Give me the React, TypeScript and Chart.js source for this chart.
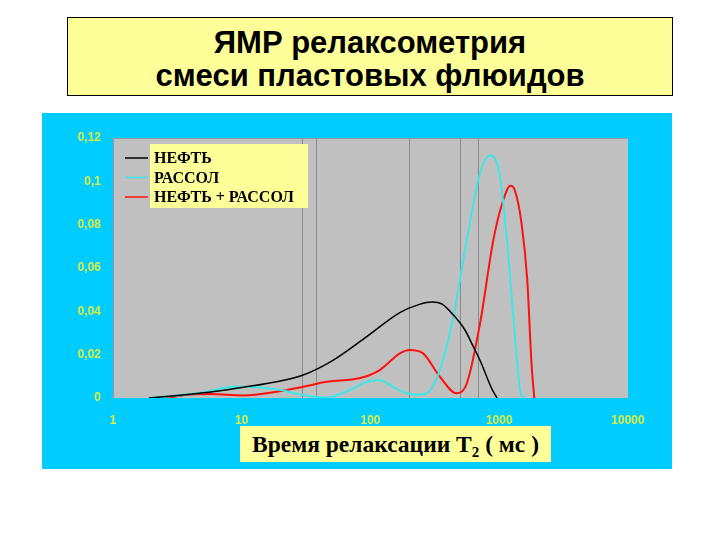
import { useEffect, useRef } from "react";
import Chart from "chart.js/auto";

// T2 relaxation times (ms) and amplitudes
const oilT = [1.9, 3, 4.7, 7, 10.3, 18.7, 30, 51.5, 93.5, 169, 240, 300, 360, 440, 540, 629, 720, 799, 880, 960];
const oilV = [0, 0.001, 0.0022, 0.0035, 0.005, 0.0075, 0.0106, 0.0175, 0.0283, 0.0394, 0.0432, 0.0443, 0.0433, 0.0383, 0.0315, 0.0237, 0.0165, 0.0098, 0.004, 0];

const brineT = [2, 3, 5, 8.6, 13, 18.7, 30, 45.6, 69, 93.5, 118, 141, 191, 230, 273, 346, 440, 560, 710, 850, 1000, 1130, 1280, 1450, 1540];
const brineV = [0, 0.001, 0.0025, 0.0052, 0.005, 0.004, 0.0014, 0.0002, 0.0037, 0.0075, 0.0083, 0.006, 0.0022, 0.0015, 0.0022, 0.0129, 0.0375, 0.073, 0.1037, 0.112, 0.104, 0.0775, 0.039, 0.0037, 0];

const mixT = [2.6, 3.7, 5.7, 10.3, 18.7, 30, 45.6, 83, 118, 169, 202, 256, 346, 465, 560, 710, 900, 1075, 1220, 1320, 1490, 1650, 1780, 1870];
const mixV = [0, 0.0014, 0.0018, 0.0012, 0.0029, 0.0052, 0.0075, 0.0092, 0.0129, 0.0206, 0.0222, 0.0206, 0.0098, 0.0022, 0.0068, 0.0345, 0.073, 0.0914, 0.098, 0.096, 0.0806, 0.0545, 0.016, 0];

const seriesNames = ["НЕФТЬ", "РАССОЛ", "НЕФТЬ + РАССОЛ"];
const seriesColors = ["#000000", "#3ee6e6", "#ff1010"];
const seriesWidths = [1.5, 2, 2];

const xTicks = [1, 10, 100, 1000, 10000];
const yTicks = [0, 0.02, 0.04, 0.06, 0.08, 0.1, 0.12];
const yTickLabels = ["0", "0,02", "0,04", "0,06", "0,08", "0,1", "0,12"];
// the grey vertical lines in the plot (x values, ms)
const markLines = [29.4, 37.7, 199, 496, 684];

const tickColor = "#dcee44";

export default function App() {
  const canvasRef = useRef<HTMLCanvasElement | null>(null);
  const chartRef = useRef<Chart | null>(null);

  useEffect(() => {
    const canvas = canvasRef.current;
    if (!canvas) return;

    const pts = (t: number[], v: number[]) => t.map((x, i) => ({ x, y: v[i] }));

    const backdrop = {
      id: "backdrop",
      beforeDatasetsDraw(chart: any) {
        const { ctx, chartArea: a, scales } = chart;
        ctx.save();
        ctx.fillStyle = "#c0c0c0";
        ctx.fillRect(a.left, a.top, a.right - a.left, a.bottom - a.top);
        ctx.strokeStyle = "#8c8c8c";
        ctx.lineWidth = 1;
        for (const m of markLines) {
          const x = Math.round(scales.x.getPixelForValue(m)) + 0.5;
          ctx.beginPath();
          ctx.moveTo(x, a.top);
          ctx.lineTo(x, a.bottom);
          ctx.stroke();
        }
        ctx.strokeStyle = "#9a94a8";
        ctx.beginPath();
        ctx.moveTo(a.left + 0.5, a.bottom);
        ctx.lineTo(a.left + 0.5, a.top + 0.5);
        ctx.lineTo(a.right, a.top + 0.5);
        ctx.stroke();
        ctx.restore();
      },
    };

    const legendBox = {
      id: "legendBox",
      afterDatasetsDraw(chart: any) {
        const ctx = chart.ctx;
        ctx.save();
        ctx.fillStyle = "#ffff99";
        ctx.fillRect(108, 31, 158, 64);
        ctx.font = 'bold 16px "Liberation Serif", "Times New Roman", serif';
        ctx.textBaseline = "middle";
        seriesNames.forEach((name, i) => {
          const y = 45 + i * 19.5;
          ctx.strokeStyle = seriesColors[i];
          ctx.lineWidth = 1.5;
          ctx.beginPath();
          ctx.moveTo(83, y);
          ctx.lineTo(106, y);
          ctx.stroke();
          ctx.fillStyle = "#000";
          ctx.fillText(name, 112, y + 1);
        });
        ctx.restore();
      },
    };

    chartRef.current = new Chart(canvas, {
      type: "line",
      data: {
        datasets: [
          { label: seriesNames[0], data: pts(oilT, oilV) },
          { label: seriesNames[1], data: pts(brineT, brineV) },
          { label: seriesNames[2], data: pts(mixT, mixV) },
        ].map((d, i) => ({
          ...d,
          borderColor: seriesColors[i],
          borderWidth: seriesWidths[i],
          pointRadius: 0,
          cubicInterpolationMode: "monotone" as const,
          fill: false,
        })),
      },
      options: {
        animation: false,
        responsive: true,
        maintainAspectRatio: false,
        layout: { padding: { top: 25, right: 44, left: 0, bottom: 0 } },
        plugins: {
          legend: { display: false },
          tooltip: { enabled: false },
        },
        scales: {
          x: {
            type: "logarithmic",
            min: 1,
            max: 10000,
            grid: { display: false },
            border: { display: false },
            afterBuildTicks: (s: any) => {
              s.ticks = xTicks.map((value) => ({ value }));
            },
            afterFit: (s: any) => {
              s.height = 71;
            },
            ticks: {
              autoSkip: false,
              maxRotation: 0,
              padding: 7,
              color: tickColor,
              font: { family: '"Liberation Sans", Arial, sans-serif', size: 12, weight: "bold" },
              callback: (v: any) => String(v),
            },
          },
          y: {
            min: 0,
            max: 0.12,
            grid: { display: false },
            border: { display: false },
            afterBuildTicks: (s: any) => {
              s.ticks = yTicks.map((value) => ({ value }));
            },
            afterFit: (s: any) => {
              s.width = 71;
            },
            ticks: {
              padding: 4,
              color: tickColor,
              font: { family: '"Liberation Sans", Arial, sans-serif', size: 12, weight: "bold" },
              callback: (v: any) => {
                const i = yTicks.findIndex((t) => Math.abs(t - v) < 1e-9);
                return i >= 0 ? yTickLabels[i] : "";
              },
            },
          },
        },
      },
      plugins: [backdrop, legendBox],
    });

    return () => {
      if (chartRef.current) {
        chartRef.current.destroy();
        chartRef.current = null;
      }
    };
  }, []);

  return (
    <div style={{ position: "absolute", left: 0, top: 0, width: 720, height: 540, background: "#fff" }}>
      <div
        style={{
          position: "absolute",
          left: 67,
          top: 17,
          width: 604,
          height: 77,
          background: "#ffff99",
          border: "1px solid #000",
          textAlign: "center",
          fontFamily: '"Liberation Sans", Arial, sans-serif',
          fontWeight: "bold",
          fontSize: 31,
          lineHeight: "33px",
          boxSizing: "content-box",
        }}
      >
        <div style={{ marginTop: 8 }}>ЯМР релаксометрия</div>
        <div>смеси пластовых флюидов</div>
      </div>
      <div style={{ position: "absolute", left: 42, top: 113, width: 630, height: 356, background: "#00ccff" }}>
        <canvas ref={canvasRef} />
      </div>
      <div
        style={{
          position: "absolute",
          left: 240,
          top: 426,
          width: 311,
          height: 36,
          background: "#ffff99",
          fontFamily: '"Liberation Serif", "Times New Roman", serif',
          fontWeight: "bold",
          fontSize: 23.5,
          lineHeight: "36px",
          textAlign: "center",
          whiteSpace: "nowrap",
        }}
      >
        Время релаксации T<sub style={{ fontSize: 15, verticalAlign: -5 }}>2</sub> ( мс )
      </div>
    </div>
  );
}
